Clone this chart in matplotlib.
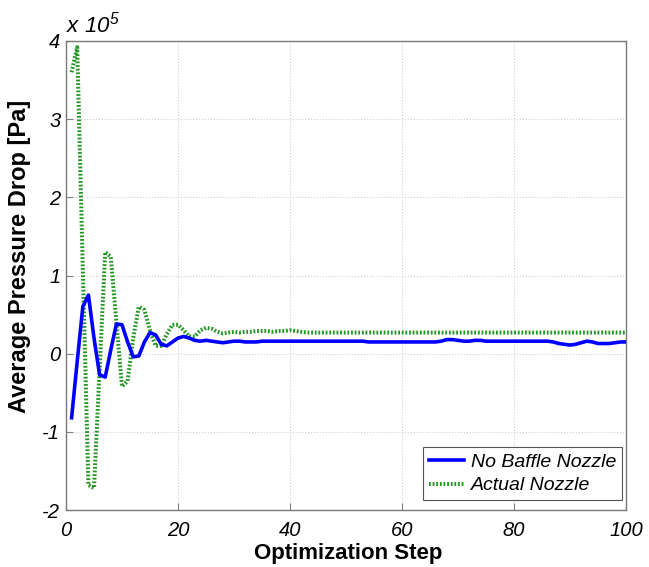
import numpy as np
import matplotlib.pyplot as plt

# pressure drop in units of 1e5 Pa, optimization steps 1..100
steps = np.arange(1, 101)
no_baffle = [-0.82, -0.10, 0.60, 0.75, 0.20, -0.27, -0.30, 0.05, 0.38, 0.37,
             0.15, -0.04, -0.03, 0.15, 0.27, 0.24, 0.12, 0.10, 0.15, 0.20,
             0.22, 0.20, 0.17, 0.16, 0.17, 0.16, 0.15, 0.14, 0.15, 0.16,
             0.16, 0.15, 0.15, 0.15, 0.16, 0.16, 0.16, 0.16, 0.16, 0.16,
             0.16, 0.16, 0.16, 0.16, 0.16, 0.16, 0.16, 0.16, 0.16, 0.16,
             0.16, 0.16, 0.16, 0.15, 0.15, 0.15, 0.15, 0.15, 0.15, 0.15,
             0.15, 0.15, 0.15, 0.15, 0.15, 0.15, 0.16, 0.18, 0.18, 0.17,
             0.16, 0.16, 0.17, 0.17, 0.16, 0.16, 0.16, 0.16, 0.16, 0.16,
             0.16, 0.16, 0.16, 0.16, 0.16, 0.16, 0.15, 0.13, 0.12, 0.11,
             0.12, 0.14, 0.16, 0.15, 0.13, 0.13, 0.13, 0.14, 0.15, 0.15]
actual = [3.60, 3.92, 1.10, -1.68, -1.72, -0.20, 1.30, 1.24, 0.40, -0.42,
          -0.35, 0.20, 0.60, 0.56, 0.30, 0.10, 0.10, 0.25, 0.37, 0.37,
          0.30, 0.22, 0.22, 0.30, 0.33, 0.32, 0.28, 0.26, 0.27, 0.28,
          0.27, 0.28, 0.28, 0.29, 0.29, 0.29, 0.28, 0.29, 0.29, 0.30,
          0.29, 0.28, 0.27, 0.27, 0.27, 0.27, 0.27, 0.27, 0.27, 0.27,
          0.27, 0.27, 0.27, 0.27, 0.27, 0.27, 0.27, 0.27, 0.27, 0.27,
          0.27, 0.27, 0.27, 0.27, 0.27, 0.27, 0.27, 0.27, 0.27, 0.27,
          0.27, 0.27, 0.27, 0.27, 0.27, 0.27, 0.27, 0.27, 0.27, 0.27,
          0.27, 0.27, 0.27, 0.27, 0.27, 0.27, 0.27, 0.27, 0.27, 0.27,
          0.27, 0.27, 0.27, 0.27, 0.27, 0.27, 0.27, 0.27, 0.27, 0.27]

x_ticks = [0, 20, 40, 60, 80, 100]
y_ticks = [-2, -1, 0, 1, 2, 3, 4]

plt.rcParams['font.family'] = ['Liberation Sans', 'DejaVu Sans']
plt.rcParams['mathtext.fontset'] = 'custom'
plt.rcParams['mathtext.it'] = 'Liberation Sans:italic'
plt.rcParams['mathtext.rm'] = 'Liberation Sans:italic'

fig = plt.figure(figsize=(6.49, 5.67), dpi=100)
ax = fig.add_axes([0.1017, 0.1005, 0.8629, 0.8272])

ax.plot(steps, no_baffle, color='#0000ff', linewidth=2.6, label='No Baffle Nozzle', zorder=3)
ax.plot(steps, actual, color='#249624', linewidth=2.9, linestyle=(0, (0.45, 0.45)),
        label='Actual Nozzle', zorder=2)

ax.set_xlim(0, 100)
ax.set_ylim(-2, 4)
ax.set_xticks(x_ticks)
ax.set_yticks(y_ticks)
ax.set_xticklabels([str(v) for v in x_ticks], fontsize=14.5, style='italic')
ax.set_yticklabels([str(v) for v in y_ticks], fontsize=14.5, style='italic')
ax.tick_params(direction='in', length=5, color='#808080')
ax.tick_params(axis='x', pad=8)
ax.tick_params(axis='y', pad=4)
ax.grid(True, linestyle=':', color='#d0d0d0', linewidth=0.8)
for s in ax.spines.values():
    s.set_color('#7a7a7a')
    s.set_linewidth(1.0)

ax.set_xlabel('Optimization Step', fontsize=16, fontweight='bold')
ax.set_ylabel('Average Pressure Drop [Pa]', fontsize=17, fontweight='bold')
ax.xaxis.set_label_coords(0.503, -0.07)
ax.yaxis.set_label_coords(-0.063, 0.54)
ax.text(0.0, 1.008, r'$x\ 10^{5}$', transform=ax.transAxes, fontsize=16,
        ha='left', va='bottom')

leg = ax.legend(loc='lower right', bbox_to_anchor=(0.993, 0.021), borderaxespad=0,
                fancybox=False, framealpha=1, edgecolor='#555555', handlelength=1.8,
                handletextpad=0.35, borderpad=0.3, labelspacing=0.3,
                prop={'style': 'italic', 'size': 14})
leg.get_frame().set_linewidth(0.8)

fig.savefig('out.png', dpi=100)
plt.close(fig)
